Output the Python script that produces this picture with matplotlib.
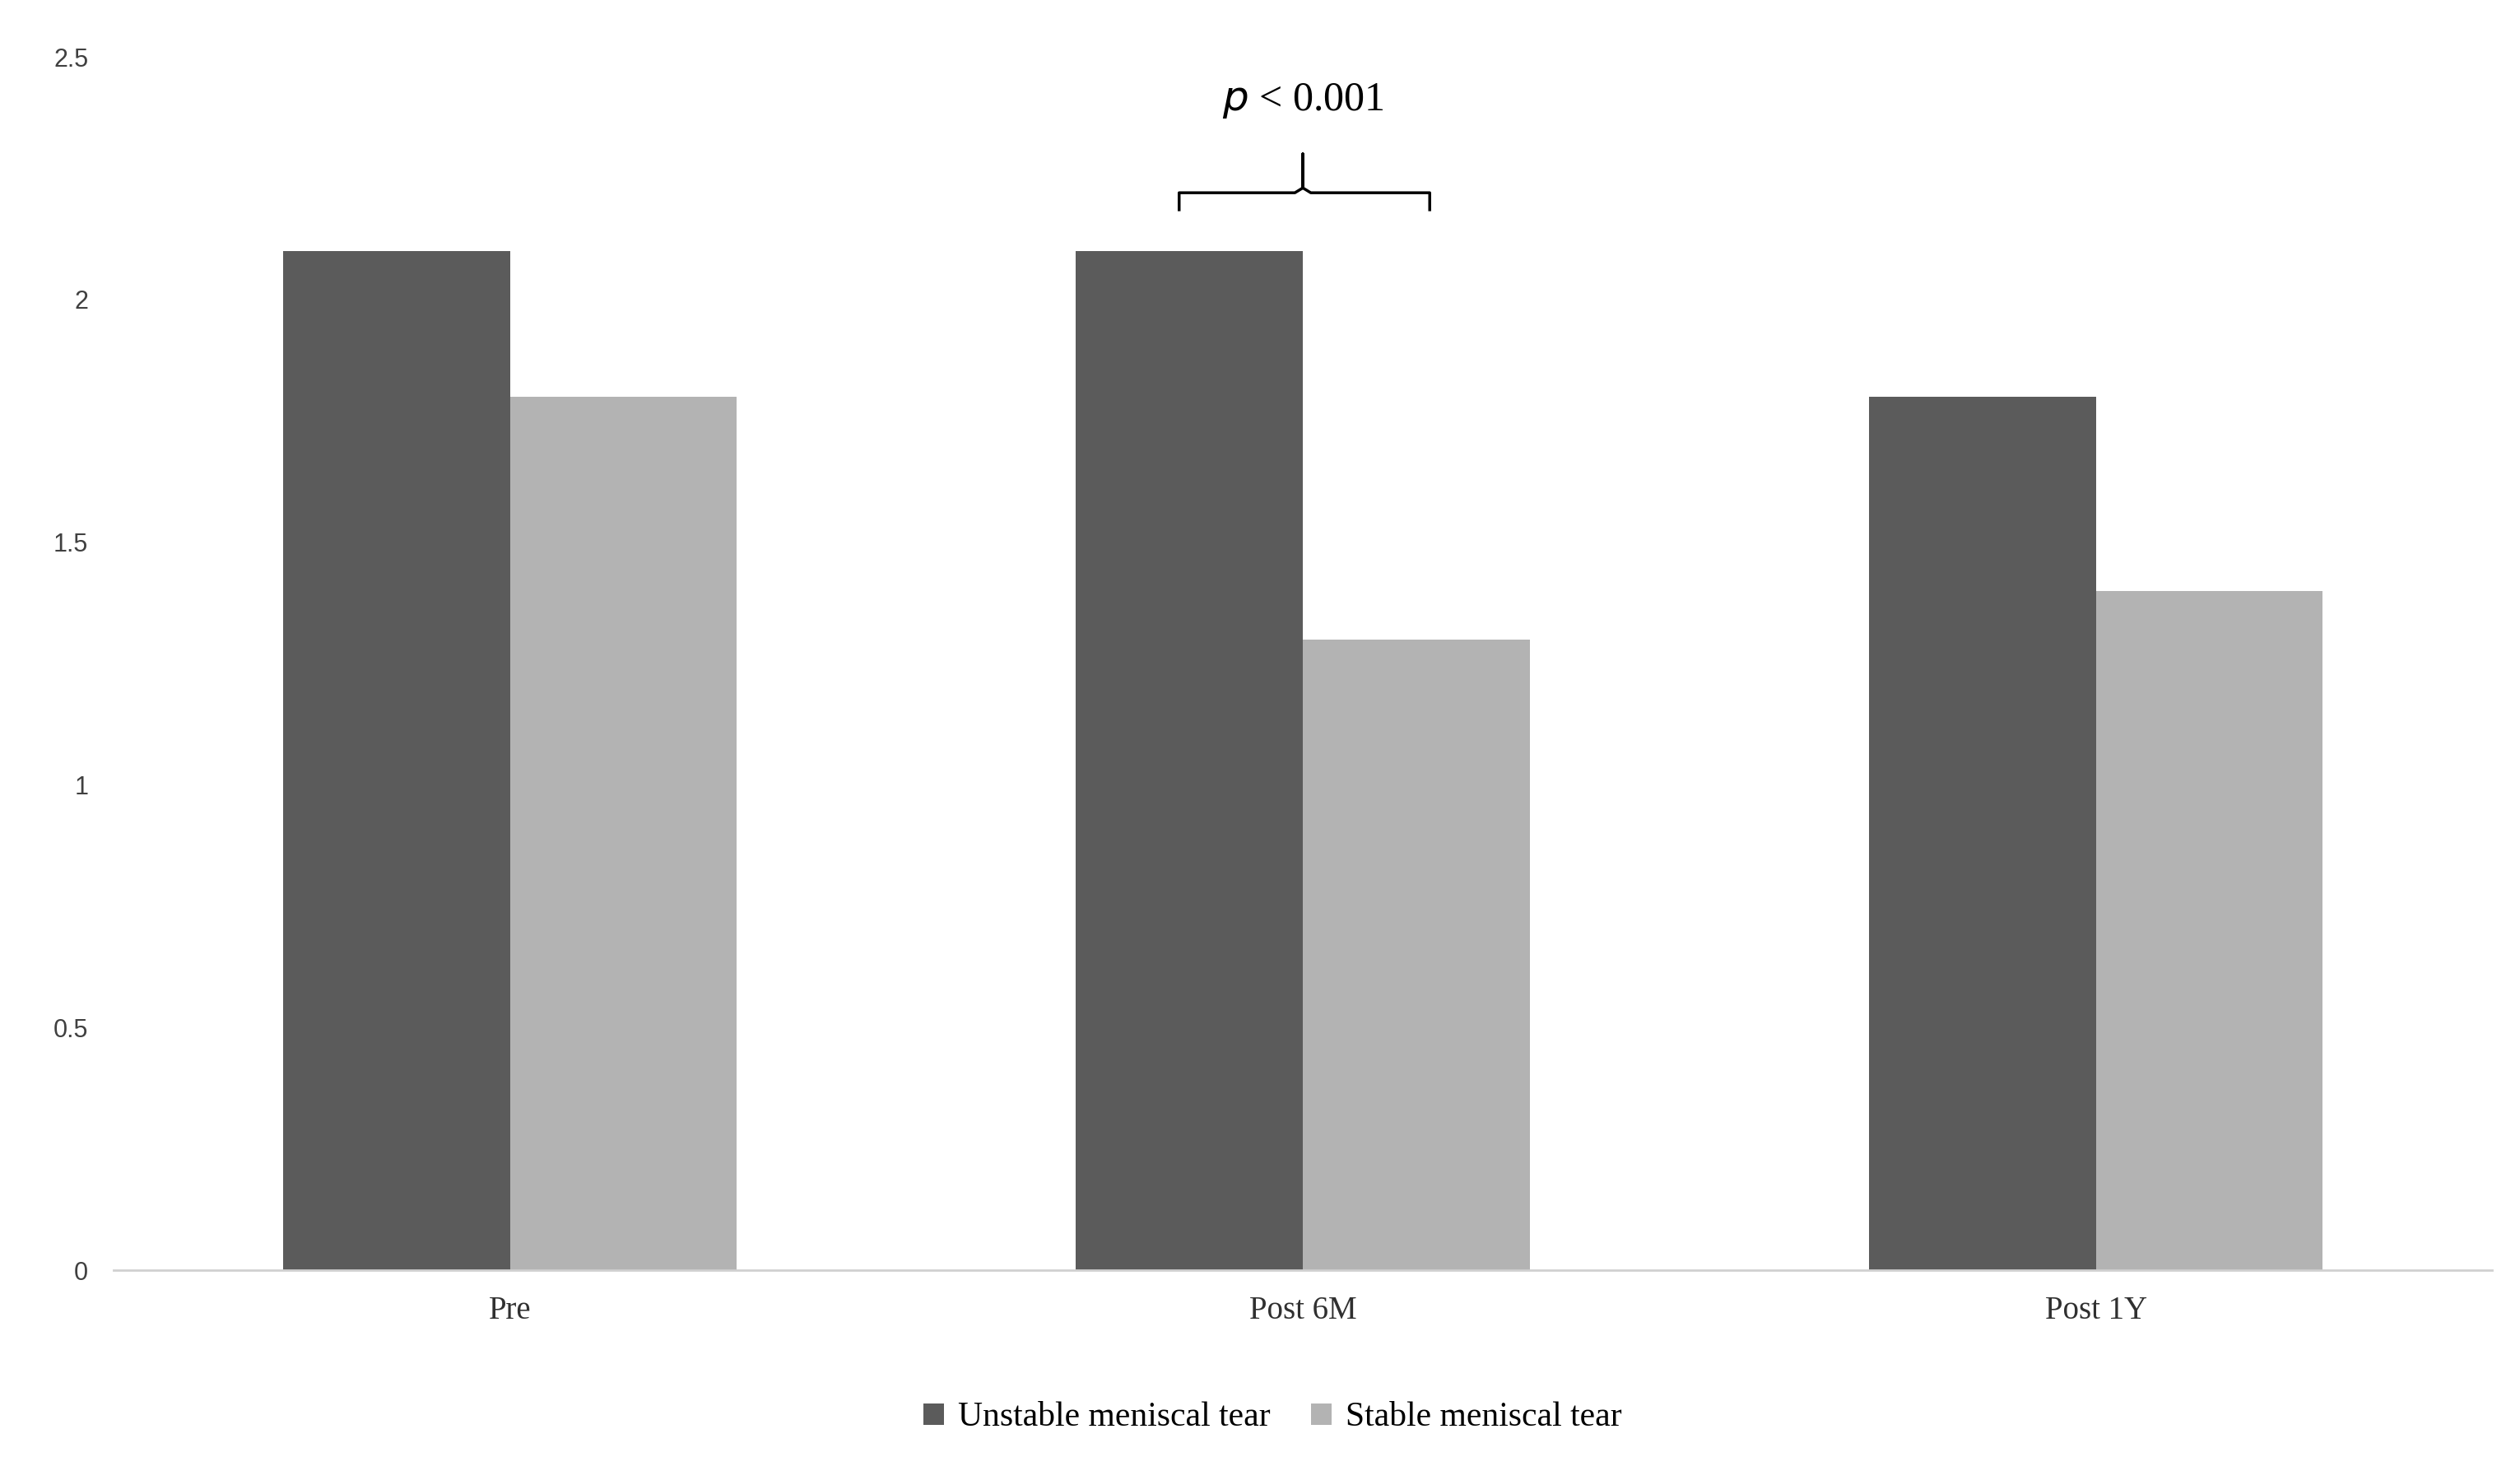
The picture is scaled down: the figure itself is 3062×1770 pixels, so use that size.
import matplotlib.pyplot as plt
import numpy as np

categories = ["Pre", "Post 6M", "Post 1Y"]
unstable = [2.1, 2.1, 1.8]
stable = [1.8, 1.3, 1.4]
series_names = ["Unstable meniscal tear", "Stable meniscal tear"]
colors = ["#5b5b5b", "#b3b3b3"]

fig = plt.figure(figsize=(30.62, 17.70), dpi=100)
ax = fig.add_axes([0.045, 0.128, 0.944, 0.833])

x = np.arange(len(categories))
w = 0.286
ax.bar(x - w / 2, unstable, w, color=colors[0], label=series_names[0])
ax.bar(x + w / 2, stable, w, color=colors[1], label=series_names[1])

ax.set_xlim(-0.5, 2.5)
ax.set_ylim(0, 2.5)
ax.set_yticks([0, 0.5, 1, 1.5, 2, 2.5])
ax.set_yticklabels(["0", "0.5", "1", "1.5", "2", "2.5"], fontsize=22,
                   family="Liberation Sans", color="#404040")
ax.set_xticks(x)
ax.set_xticklabels(categories, fontsize=28, family="Liberation Serif", color="#303030")
ax.tick_params(length=0, axis="both", pad=22)
for s in ["top", "right", "left"]:
    ax.spines[s].set_visible(False)
ax.spines["bottom"].set_color("#d0d0d0")
ax.spines["bottom"].set_linewidth(2)

# significance bracket over Post 6M
xl, xr, xc = 0.844, 1.16, 1.0
yb, yt, yc = 2.185, 2.22, 2.30
ax.plot([xl, xl, xc - 0.01, xc, xc, xc, xc + 0.01, xr, xr],
        [yb, yt, yt, yt + 0.01, yc, yt + 0.01, yt, yt, yb],
        color="black", lw=2.5, clip_on=False)
ax.text(xc, 2.37, r"$p$ < 0.001", ha="center", va="bottom", fontsize=36,
        family="Liberation Serif")

fig.legend(loc="center", bbox_to_anchor=(0.505, 0.027), ncol=2, frameon=False,
           prop={"family": "Liberation Serif", "size": 30},
           handlelength=0.6, handleheight=0.6, columnspacing=1.2, handletextpad=0.4)

fig.savefig("out.png", dpi=100)
